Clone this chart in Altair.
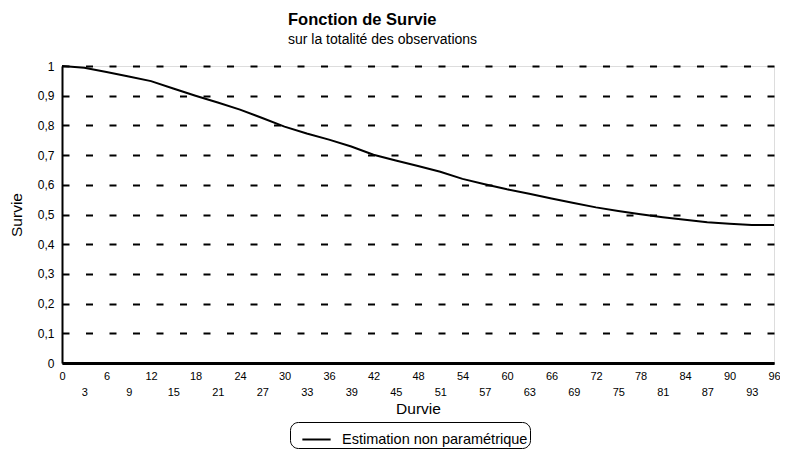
import altair as alt
import pandas as pd

# Values
durvie = [0, 3, 6, 9, 12, 15, 18, 21, 24, 27, 30, 33, 36, 39, 42, 45, 48,
          51, 54, 57, 60, 63, 66, 69, 72, 75, 78, 81, 84, 87, 90, 93, 96]
survie = [1.0, 0.994, 0.980, 0.965, 0.949, 0.924, 0.900, 0.877, 0.853, 0.825,
          0.796, 0.773, 0.752, 0.729, 0.701, 0.682, 0.663, 0.644, 0.620, 0.602,
          0.585, 0.570, 0.554, 0.539, 0.524, 0.512, 0.501, 0.491, 0.482, 0.474,
          0.469, 0.465, 0.465]
serie_name = "Estimation non paramétrique"
x_ticks = list(range(0, 97, 3))
y_ticks = [0, 0.1, 0.2, 0.3, 0.4, 0.5, 0.6, 0.7, 0.8, 0.9, 1]

df = pd.DataFrame({"Durvie": durvie, "Survie": survie, "serie": serie_name})

FONT = "Liberation Sans"

chart = alt.Chart(df).mark_line(color="black", strokeWidth=2).encode(
    x=alt.X("Durvie:Q",
            scale=alt.Scale(domain=[0, 96], nice=False, zero=False),
            axis=alt.Axis(values=x_ticks, title="Durvie", grid=False, ticks=False,
                          labelOverlap=False, labelFlush=False,
                          labelExpr="datum.value % 6 == 0 ? '' + datum.value : ['\u00a0', '' + datum.value]",
                          labelLineHeight=16, labelFontSize=11, labelPadding=7,
                          labelColor="black", labelFont=FONT,
                          domainColor="black", domainWidth=3,
                          titleFont=FONT, titleFontSize=15.5, titleFontWeight="normal",
                          titleColor="black", titlePadding=4)),
    y=alt.Y("Survie:Q",
            scale=alt.Scale(domain=[0, 1], nice=False),
            axis=alt.Axis(values=y_ticks, title="Survie", ticks=False,
                          labelExpr="datum.value == 0 ? '0' : datum.value == 1 ? '1' : replace(format(datum.value, '.1f'), '.', ',')",
                          labelFontSize=12, labelPadding=8, labelColor="black",
                          labelFont=FONT,
                          grid=True, gridColor="black", gridWidth=2,
                          gridDash=[7, 16.5],
                          domainColor="black", domainWidth=2,
                          titleFont=FONT, titleFontSize=15.5, titleFontWeight="normal",
                          titleColor="black", titlePadding=13)),
    color=alt.Color("serie:N",
                    scale=alt.Scale(range=["black"]),
                    legend=alt.Legend(title=None, orient="none",
                                      legendX=228, legendY=356,
                                      symbolType="stroke", symbolSize=800,
                                      symbolStrokeWidth=2, symbolOffset=9,
                                      labelFont=FONT, labelFontSize=14.5,
                                      labelColor="black", labelOffset=10,
                                      labelLimit=400,
                                      padding=2, strokeColor="black",
                                      cornerRadius=8, fillColor="white")),
).properties(
    width=712,
    height=297,
    title=alt.TitleParams(
        text="Fonction de Survie",
        subtitle="sur la totalité des observations",
        anchor="start", frame="group", dx=226, offset=13,
        font=FONT, fontSize=16.5, fontWeight="bold", color="black",
        subtitleFont=FONT, subtitleFontSize=14, subtitleColor="black",
        subtitlePadding=5,
    ),
    autosize=alt.AutoSizeParams(type="none"),
    padding={"left": 54, "top": 58, "right": 6, "bottom": 86},
).configure_view(
    stroke="black", strokeWidth=2
).configure_legend(
    strokeWidth=2
).configure(background="white")

chart.save("out.html", embed_options={"renderer": "svg", "actions": False})
